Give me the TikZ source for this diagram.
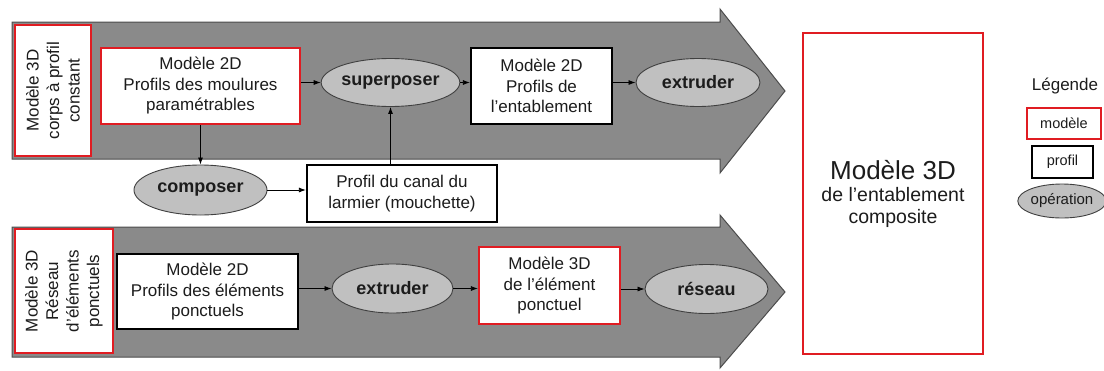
\documentclass[tikz,border=0pt]{standalone}
\usepackage{fontspec}
\setmainfont{Liberation Sans}
\usetikzlibrary{arrows.meta,shapes.geometric}
\definecolor{modelred}{RGB}{224,28,34}
\definecolor{arrowgray}{RGB}{138,138,138}
\definecolor{opgray}{RGB}{192,192,192}
\definecolor{txtgray}{RGB}{28,28,28}
\tikzset{
  boxtext/.style={align=center,inner sep=0pt,text=txtgray,font=\fontsize{17}{20.5}\selectfont},
  modele/.style={boxtext,draw=modelred,line width=2.2pt,fill=white},
  profil/.style={boxtext,draw=black,line width=2.2pt,fill=white},
  operation/.style={ellipse,draw=black!75,line width=0.9pt,fill=opgray,inner sep=0pt,
    text=txtgray,font=\bfseries\fontsize{18}{20}\selectfont},
  flow/.style={-{Latex[length=7pt,width=5pt]},line width=0.8pt},
  bigarrow/.style={fill=arrowgray,draw=black!70,line width=1pt,line join=miter}
}
\begin{document}
\begin{tikzpicture}[x=1pt,y=-1pt]
  \useasboundingbox (0,0) rectangle (1104,370);
  % the two grey arrows
  \draw[bigarrow] (12,22)--(720,22)--(720,9)--(785,91)--(720,173)--(720,159)--(12,159)--cycle;
  \draw[bigarrow] (12,227)--(720,227)--(720,215)--(785,292)--(720,368)--(720,357)--(12,357)--cycle;

  % upper row
  \node[modele,rotate=90,minimum width=131pt,minimum height=76pt] (m3dcorps) at (53,90.5)
    {Modèle 3D\\corps à profil\\constant};
  \node[modele,minimum width=199pt,minimum height=76pt] (m2dmoul) at (200.5,86)
    {Modèle 2D\\Profils des moulures\\paramétrables};
  \node[operation,minimum width=115pt,minimum height=48pt] (superp) at (390.5,82.5) {superposer};
  \node[profil,minimum width=141pt,minimum height=76pt] (p2dent) at (541.5,86)
    {Modèle 2D\\Profils de\\l'entablement};
  \node[operation,minimum width=124pt,minimum height=48pt] (extrA) at (698,82.5) {extruder};
  \node[operation,minimum width=133pt,minimum height=50pt] (compo) at (200.5,190) {composer};
  \node[profil,minimum width=190pt,minimum height=57pt] (canal) at (402,193.5)
    {Profil du canal du\\larmier (mouchette)};

  \draw[flow] (m2dmoul.east |- superp) -- (superp.west);
  \draw[flow] (superp.east) -- (superp -| p2dent.west);
  \draw[flow] (p2dent.east |- extrA) -- (extrA.west);
  \draw[flow] (m2dmoul.south) -- (compo.north);
  \draw[flow] (compo.east) -- (compo.east -| canal.west);
  \draw[flow] (superp |- canal.north) -- (superp.south);

  % lower row
  \node[modele,rotate=90,minimum width=124pt,minimum height=98pt] (m3dres) at (64,291)
    {Modèle 3D\\Réseau\\d'éléments\\ponctuels};
  \node[profil,minimum width=181pt,minimum height=75pt] (p2dpon) at (207.5,291.5)
    {Modèle 2D\\Profils des éléments\\ponctuels};
  \node[operation,minimum width=121pt,minimum height=49pt] (extrB) at (392.5,288.5) {extruder};
  \node[modele,minimum width=141pt,minimum height=77pt] (m3dpon) at (549.5,285.5)
    {Modèle 3D\\de l'élément\\ponctuel};
  \node[operation,minimum width=123pt,minimum height=49pt] (reseau) at (706.5,289) {réseau};

  \draw[flow] (p2dpon.east |- extrB) -- (extrB.west);
  \draw[flow] (extrB.east) -- (extrB -| m3dpon.west);
  \draw[flow] (m3dpon.east |- reseau) -- (reseau.west);

  % result
  \node[modele,minimum width=180pt,minimum height=321pt,font=\fontsize{19.5}{22}\selectfont] (m3dent) at (893,193.5)
    {{\fontsize{26}{26}\selectfont Modèle 3D}\\de l'entablement\\composite};

  % legend
  \node[text=txtgray,font=\fontsize{17}{19}\selectfont] (leg) at (1065,86) {Légende};
  \node[modele,line width=1.6pt,minimum width=74pt,minimum height=31pt,font=\fontsize{14.5}{16}\selectfont] (legm) at (1064,123.5) {modèle};
  \node[profil,line width=1.8pt,minimum width=61pt,minimum height=32pt,font=\fontsize{14.5}{16}\selectfont] (legp) at (1062.5,162) {profil};
  \node[operation,minimum width=84pt,minimum height=34pt,font=\fontsize{15}{16}\selectfont] (lego) at (1062,201) {opération};
\end{tikzpicture}
\end{document}
